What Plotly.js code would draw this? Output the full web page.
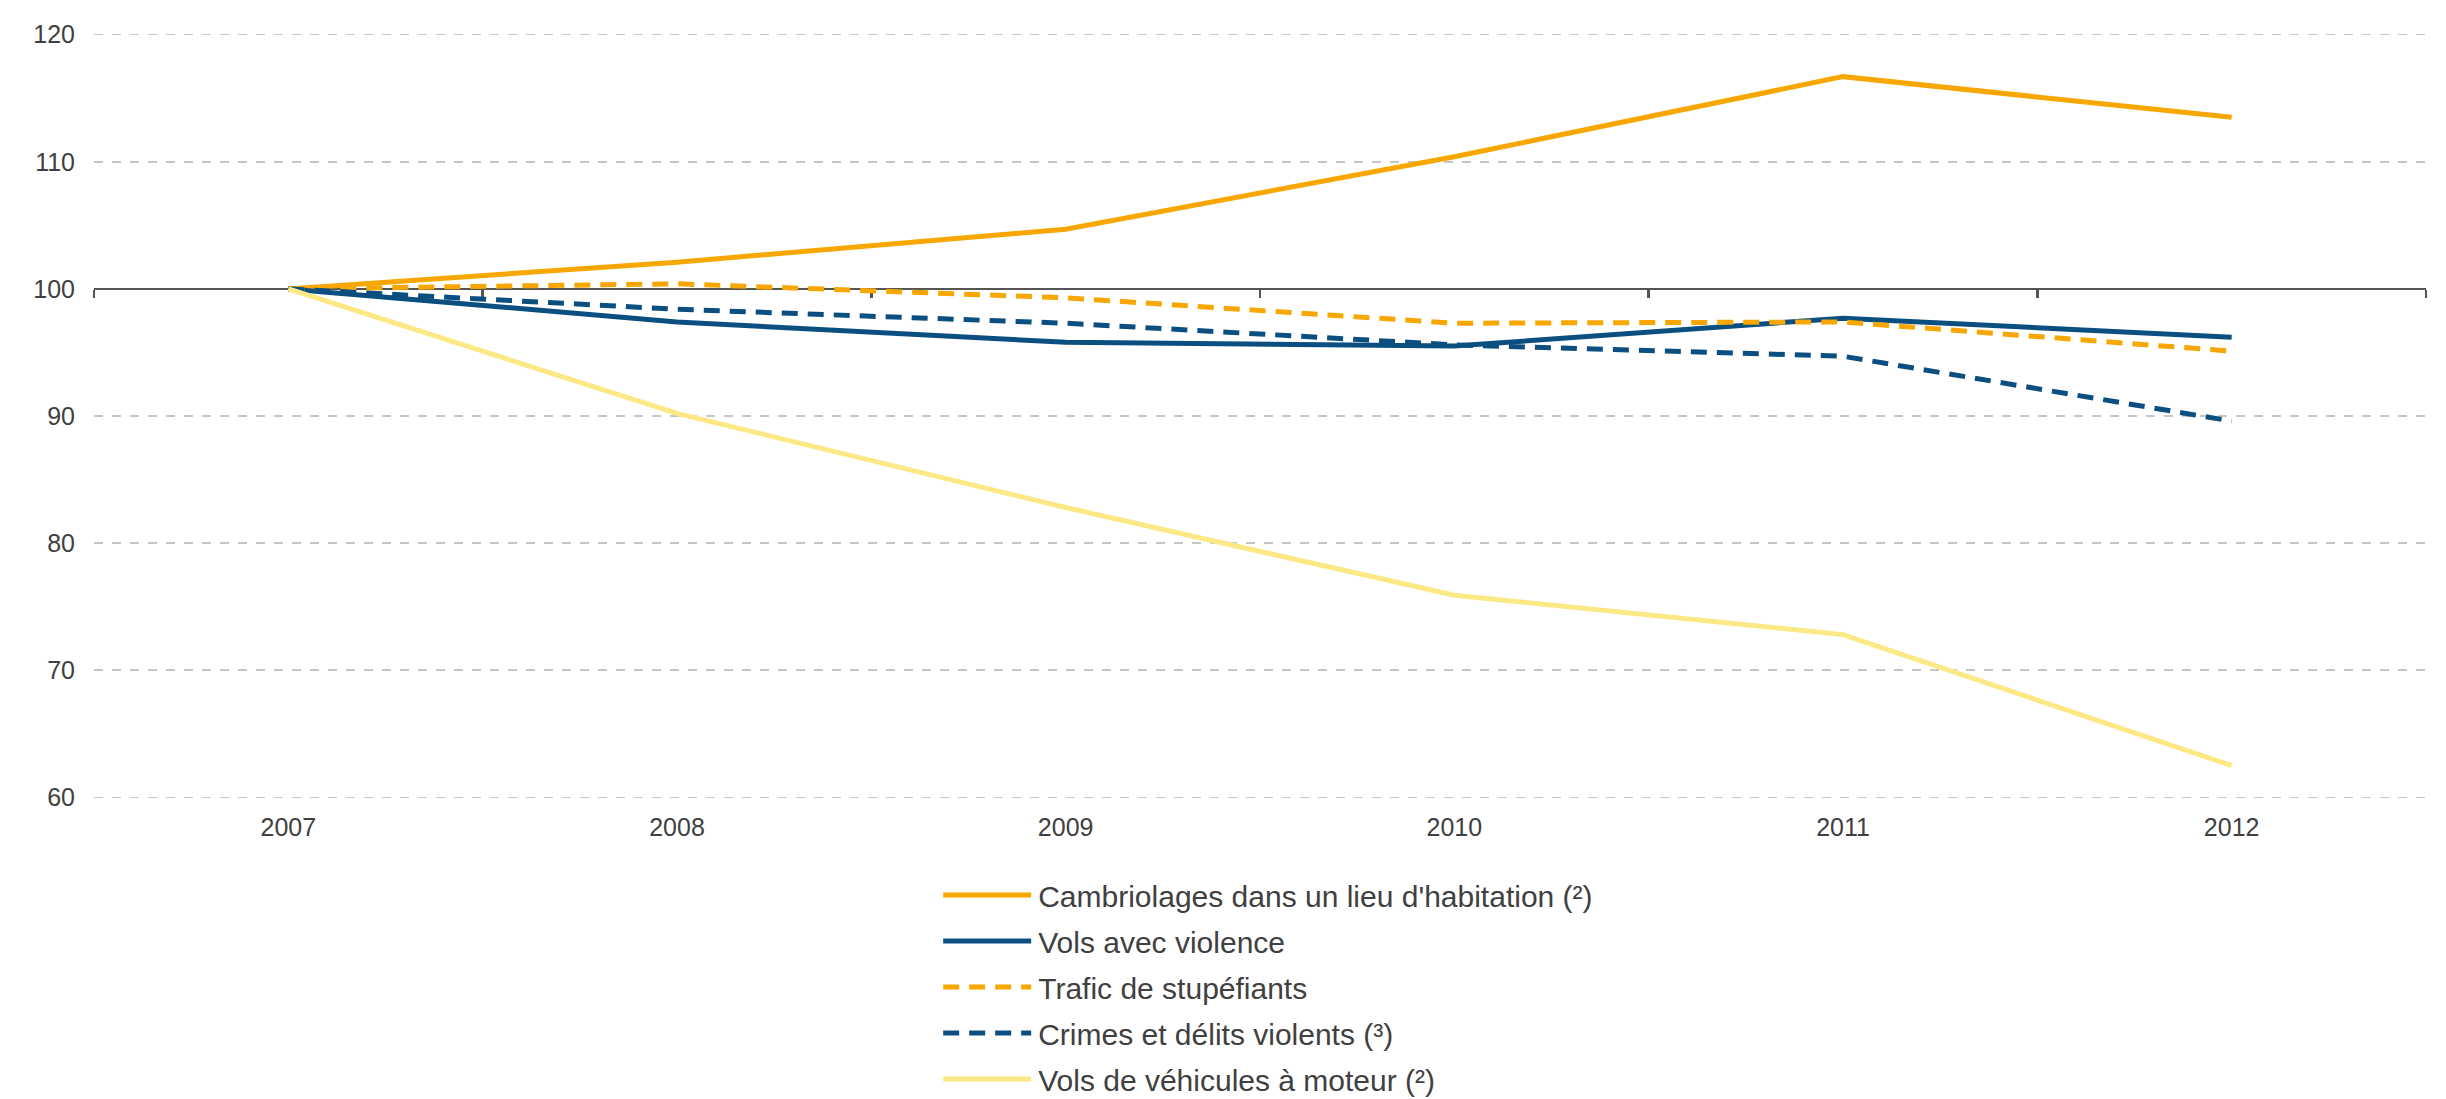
<!DOCTYPE html>
<html>
<head>
<meta charset="utf-8">
<script src="https://cdn.plot.ly/plotly-3.0.1.min.js"></script>
<style>html,body{margin:0;padding:0;background:#fff;}#chart{width:2446px;height:1099px;}</style>
</head>
<body>
<div id="chart"></div>
<script>
const years = ['2007', '2008', '2009', '2010', '2011', '2012'];
const cambriolages = [100, 102.1, 104.7, 110.4, 116.7, 113.5];
const volsViolence = [100, 97.4, 95.8, 95.5, 97.7, 96.2];
const traficStup = [100, 100.4, 99.3, 97.3, 97.4, 95.1];
const crimesViolents = [100, 98.4, 97.3, 95.6, 94.7, 89.6];
const volsVehicules = [100, 90.2, 82.8, 75.9, 72.8, 62.5];
const yTicks = [60, 70, 80, 90, 100, 110, 120];
const seriesNames = [
  "Cambriolages dans un lieu d'habitation (²)",
  'Vols avec violence',
  'Trafic de stupéfiants',
  'Crimes et délits violents (³)',
  'Vols de véhicules à moteur (²)'
];

const orange = '#F7A700';
const blue = '#0B4F80';
const yellow = '#FCE985';

function tr(vals, name, color, dash, g) {
  return {x: years, y: vals, name: name, type: 'scatter', mode: 'lines',
    line: {color: color, width: 5, dash: dash}, legendgroup: g, hoverinfo: 'x+y'};
}

const data = [
  tr(cambriolages, seriesNames[0], orange, 'solid', 'g1'),
  tr(volsViolence, seriesNames[1], blue, 'solid', 'g2'),
  tr(traficStup, seriesNames[2], orange, '16px,10px', 'g3'),
  tr(crimesViolents, seriesNames[3], blue, '16px,10px', 'g4'),
  tr(volsVehicules, seriesNames[4], yellow, 'solid', 'g5'),
  {x: [], y: [], xaxis: 'x2', showlegend: false, type: 'scatter', mode: 'lines', hoverinfo: 'skip'}
];

const yMin = 59, yMax = 121;

const layout = {
  width: 2446, height: 1099,
  margin: {l: 94, r: 20, t: 22, b: 289, autoexpand: false},
  paper_bgcolor: '#ffffff', plot_bgcolor: '#ffffff',
  font: {family: 'Arial, "Liberation Sans", sans-serif', size: 25, color: '#404040'},
  showlegend: true,
  legend: {orientation: 'v', x: 0.362, xanchor: 'left', y: -0.075, yanchor: 'top',
    font: {size: 30, color: '#404040'}, bgcolor: 'rgba(0,0,0,0)', tracegroupgap: 4,
    itemwidth: 90},
  xaxis: {type: 'category', range: [-0.5, 5.5], showgrid: false, zeroline: false,
    showline: false, ticks: '', ticklabelstandoff: 0, tickfont: {size: 25, color: '#404040'}},
  xaxis2: {overlaying: 'x', anchor: 'free', position: (100 - yMin) / (yMax - yMin), type: 'linear',
    range: [-0.5, 5.5], tick0: -0.5, dtick: 1, showticklabels: false,
    showline: true, linecolor: '#555555', linewidth: 2.5, ticks: 'outside',
    ticklen: 8, tickwidth: 2.5, tickcolor: '#555555', showgrid: false, zeroline: false,
    layer: 'below traces'},
  yaxis: {range: [yMin, yMax], tickvals: yTicks,
    showgrid: true, gridcolor: '#c6c6c6',
    gridwidth: 1.5, griddash: 'dash', zeroline: false, showline: false, ticks: '',
    ticklabelstandoff: 18, tickfont: {size: 25, color: '#404040'}}
};

Plotly.newPlot('chart', data, layout, {displayModeBar: false, staticPlot: true}).then(function () {
  document.querySelectorAll('.legend .legendlines path').forEach(function (p) {
    p.setAttribute('d', 'M5,0h88');
  });
});
</script>
</body>
</html>
